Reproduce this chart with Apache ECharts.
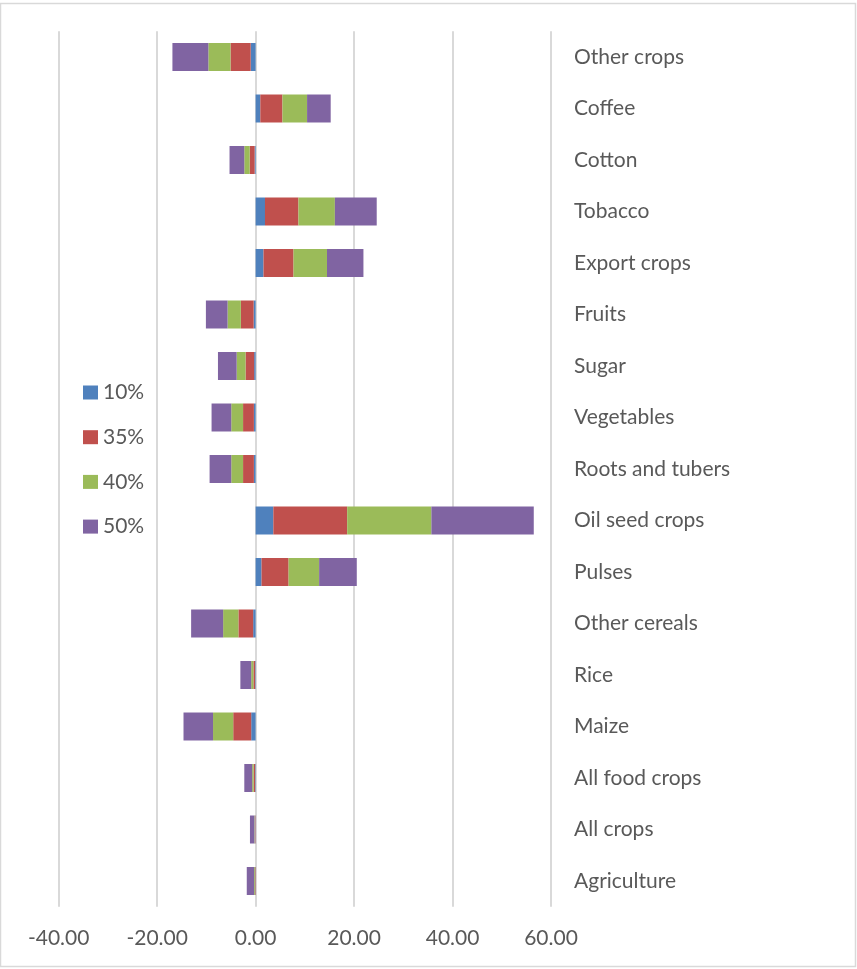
<!DOCTYPE html>
<html>
<head>
<meta charset="utf-8">
<script src="https://cdn.jsdelivr.net/npm/echarts@6/dist/echarts.min.js"></script>
<style>
  html, body { margin: 0; padding: 0; background: #ffffff; }
  #chart { width: 857px; height: 969px; }
</style>
</head>
<body>
<div id="chart"></div>
<script>
// Crop groups, listed top to bottom
const categories = [
  'Other crops', 'Coffee', 'Cotton', 'Tobacco', 'Export crops', 'Fruits',
  'Sugar', 'Vegetables', 'Roots and tubers', 'Oil seed crops', 'Pulses',
  'Other cereals', 'Rice', 'Maize', 'All food crops', 'All crops', 'Agriculture'
];

// Percentage change per scenario
const seriesNames = ['10%', '35%', '40%', '50%'];
const values10 = [-1.0, 0.95, -0.2, 1.9, 1.6, -0.4, -0.3, -0.35, -0.35, 3.6, 1.2, -0.5, -0.1, -0.9, -0.1, -0.05, 0.05];
const values35 = [-4.1, 4.5, -1.0, 6.8, 6.1, -2.6, -1.75, -2.2, -2.2, 15.0, 5.5, -3.0, -0.35, -3.65, -0.3, -0.1, -0.1];
const values40 = [-4.5, 5.0, -1.1, 7.4, 6.8, -2.7, -1.8, -2.4, -2.4, 17.1, 6.2, -3.1, -0.45, -4.1, -0.3, -0.1, -0.2];
const values50 = [-7.3, 4.8, -3.0, 8.5, 7.4, -4.4, -3.8, -4.0, -4.4, 20.8, 7.65, -6.5, -2.2, -6.0, -1.6, -0.9, -1.5];

// Axis range and ticks
const axisMin = -40;
const axisMax = 60;
const axisStep = 20;

const palette = ['#4F81BD', '#C0504D', '#9BBB59', '#8064A2'];
const textColor = '#595959';
const fontFamily = 'Lato, "Open Sans", sans-serif';
const fontSize = 21;

const seriesData = [values10, values35, values40, values50];

const chart = echarts.init(document.getElementById('chart'), null, { renderer: 'canvas' });

chart.setOption({
  backgroundColor: '#ffffff',
  animation: false,
  color: palette,
  graphic: [{
    type: 'rect',
    shape: { x: 0.5, y: 3.5, width: 855, height: 963 },
    style: { fill: 'none', stroke: '#d9d9d9', lineWidth: 1.5 },
    silent: true
  }],
  legend: {
    orient: 'vertical',
    left: 78,
    top: 377,
    itemWidth: 15,
    itemHeight: 14,
    itemGap: 23.7,
    icon: 'rect',
    data: seriesNames,
    textStyle: { color: textColor, fontSize: fontSize, fontFamily: fontFamily }
  },
  grid: {
    left: 58.7,
    right: 306,
    top: 31.25,
    bottom: 62.25,
    containLabel: false
  },
  xAxis: {
    type: 'value',
    min: axisMin,
    max: axisMax,
    interval: axisStep,
    axisLine: { show: false },
    axisTick: { show: false },
    axisLabel: {
      color: textColor,
      fontSize: fontSize,
      fontFamily: fontFamily,
      margin: 21,
      formatter: v => v.toFixed(2)
    },
    splitLine: { lineStyle: { color: '#d9d9d9', width: 2 } }
  },
  yAxis: {
    type: 'category',
    data: categories,
    inverse: true,
    position: 'right',
    axisLine: { show: false },
    axisTick: { show: false },
    axisLabel: {
      color: textColor,
      fontSize: fontSize,
      fontFamily: fontFamily,
      margin: 23
    },
    splitLine: { show: false }
  },
  series: seriesNames.map((name, i) => ({
    name: name,
    type: 'bar',
    stack: 'total',
    barWidth: 28,
    data: seriesData[i],
    itemStyle: { color: palette[i] }
  }))
});
</script>
</body>
</html>
